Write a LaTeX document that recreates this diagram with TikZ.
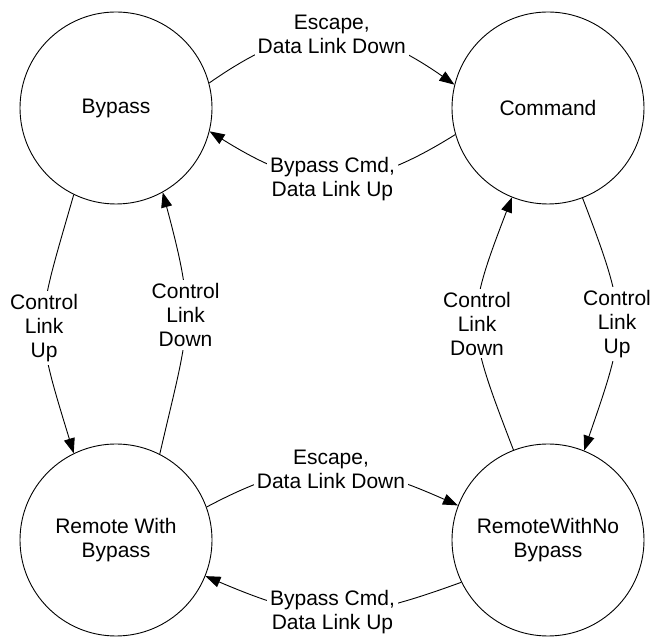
\documentclass[tikz,border=0pt]{standalone}
\usepackage{fontspec}
\setmainfont{Liberation Sans}
\usetikzlibrary{arrows.meta}
\tikzset{
	trangthai/.style={draw,circle,minimum size=192pt,inner sep=0pt,align=center},
	nhan/.style={fill=white,inner sep=3pt,align=center},
	muiten/.style={-{Triangle[length=15pt,width=11pt]}}
}
\begin{document}
\begin{tikzpicture}[x=1pt,y=1pt,line width=.9pt,font=\fontsize{21}{24}\selectfont]
	\useasboundingbox (0,0) rectangle (659,637);
	%Trạng thái
	\node[trangthai] (bypass) at (116,529) {Bypass};
	\node[trangthai] (command) at (548,529) {Command};
	\node[trangthai] (rwb) at (116,97) {Remote With\\Bypass};
	\node[trangthai] (rwn) at (548,97) {RemoteWithNo\\Bypass};
	%Trên
	\draw[muiten] (bypass.15) to[out=35,in=145,looseness=1.2]
		node[nhan] (esc1) {Escape,\\Data Link Down} (command.166);
	\draw[muiten] (command.196) to[out=212,in=328,looseness=1.2]
		node[nhan] (bpc1) {Bypass Cmd,\\Data Link Up} (bypass.346);
	%Dưới
	\draw[muiten] (rwb.20) to[out=28,in=156,looseness=1.15]
		node[nhan] (esc2) {Escape,\\Data Link Down} (rwn.159);
	\draw[muiten] (rwn.206) to[out=200,in=337,looseness=1.2]
		node[nhan] (bpc2) {Bypass Cmd,\\Data Link Up} (rwb.338);
	%Trái
	\draw[muiten] (bypass.244) to[out=254,in=107,looseness=1.38]
		node[nhan,pos=.52] (up1) {Control\\Link\\Up} (rwb.116);
	\draw[muiten] (rwb.63) to[out=77,in=285,looseness=1.3]
		node[nhan,pos=.54] (down1) {Control\\Link\\Down} (bypass.299);
	%Phải
	\draw[muiten] (command.291) to[out=291,in=71,looseness=1.33]
		node[nhan] (up2) {Control\\Link\\Up} (rwn.68);
	\draw[muiten] (rwn.111) to[out=111,in=249,looseness=1.34]
		node[nhan] (down2) {Control\\Link\\Down} (command.248);
\end{tikzpicture}
\end{document}
